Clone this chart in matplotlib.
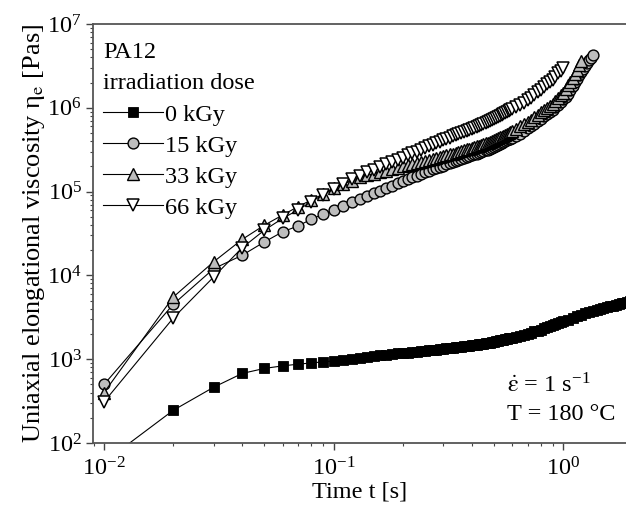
import matplotlib
matplotlib.use("Agg")
import matplotlib.pyplot as plt
from matplotlib.ticker import LogLocator, NullFormatter

plt.rcParams["font.family"] = ["Liberation Serif", "DejaVu Serif"]
plt.rcParams["mathtext.fontset"] = "stix"
plt.rcParams["font.size"] = 17.5

# measurement times [s]
time_early = [0.01, 0.02, 0.03, 0.04, 0.05, 0.06, 0.07, 0.08, 0.09, 0.10,
              0.11, 0.12, 0.13, 0.14, 0.15, 0.16, 0.17, 0.18, 0.19, 0.20,
              0.21, 0.22, 0.23, 0.24, 0.25, 0.26, 0.27, 0.28, 0.29, 0.30,
              0.31, 0.32, 0.33, 0.34, 0.35, 0.36, 0.37, 0.38, 0.39, 0.40,
              0.41, 0.42, 0.43, 0.44, 0.45, 0.46, 0.47, 0.48, 0.49, 0.50,
              0.51, 0.52, 0.53, 0.54, 0.55, 0.56, 0.57, 0.58, 0.59, 0.60]
time_late = [0.625, 0.65, 0.675, 0.70, 0.725, 0.75, 0.775, 0.80, 0.825, 0.85,
             0.875, 0.90, 0.925, 0.95, 0.975, 1.00, 1.025, 1.05, 1.075, 1.10,
             1.125, 1.15, 1.175, 1.20, 1.225, 1.25, 1.275, 1.30, 1.325, 1.35]
time_tail = [1.05, 1.10, 1.15, 1.20, 1.25, 1.30, 1.35, 1.40, 1.45, 1.50,
             1.55, 1.60, 1.65, 1.70, 1.75, 1.80, 1.85, 1.90, 1.95, 2.00]

t_0 = time_early + time_late[:16] + time_tail
t_15 = time_early + time_late
t_33 = time_early + time_late[:24]
t_66 = time_early + time_late[:16]

# elongational viscosity [Pas]
eta_0 = [59, 245, 462, 676, 776, 832, 871, 902, 929, 955,
         984, 1010, 1040, 1060, 1080, 1110, 1130, 1150, 1170, 1180,
         1200, 1220, 1230, 1240, 1260, 1270, 1290, 1300, 1320, 1330,
         1345, 1360, 1370, 1380, 1395, 1410, 1420, 1430, 1445, 1460,
         1475, 1490, 1500, 1510, 1525, 1540, 1560, 1580, 1600, 1620,
         1640, 1660, 1680, 1700, 1715, 1730, 1750, 1770, 1790, 1810,
         1850, 1910, 1970, 2020, 2080, 2140, 2190, 2250, 2330, 2400,
         2470, 2550, 2620, 2690, 2770, 2840,
         2970, 3110, 3250, 3390, 3520, 3620, 3730, 3850, 3950, 4060,
         4170, 4270, 4360, 4460, 4550, 4650, 4730, 4830, 4920, 5010]

eta_15 = [500, 4500, 12000, 17400, 25100, 33100, 38900, 46800, 53700, 60300,
          67600, 74100, 81300, 88500, 95500, 102000, 110000, 117000, 126000, 132000,
          141000, 148000, 155000, 164000, 170000, 178000, 184000, 191000, 197000, 204000,
          211000, 219000, 225000, 231000, 237000, 244000, 250000, 257000, 263000, 270000,
          277000, 284000, 290000, 297000, 303000, 310000, 317000, 324000, 333000, 342000,
          351000, 361000, 370000, 380000, 390000, 400000, 409000, 419000, 429000, 440000,
          465000, 490000, 527000, 566000, 607000, 649000, 693000, 741000, 789000, 839000,
          891000, 944000, 1.02e6, 1.09e6, 1.18e6, 1.26e6, 1.36e6, 1.48e6, 1.64e6, 1.82e6,
          2.02e6, 2.23e6, 2.47e6, 2.69e6, 2.91e6, 3.15e6, 3.40e6, 3.67e6, 3.96e6, 4.27e6]

eta_33 = [400, 5500, 14500, 26900, 39800, 52500, 66100, 79400, 93300, 110000,
          123000, 135000, 148000, 156000, 163000, 171000, 178000, 185000, 193000, 200000,
          206000, 213000, 219000, 226000, 232000, 238000, 245000, 251000, 257000, 263000,
          270000, 277000, 284000, 291000, 297000, 304000, 311000, 318000, 324000, 331000,
          339000, 347000, 354000, 362000, 369000, 377000, 385000, 393000, 400000, 407000,
          419000, 431000, 442000, 453000, 464000, 476000, 488000, 501000, 513000, 525000,
          561000, 598000, 637000, 676000, 724000, 774000, 828000, 881000, 938000, 998000,
          1.06e6, 1.12e6, 1.21e6, 1.31e6, 1.41e6, 1.51e6, 1.67e6, 1.85e6, 2.04e6, 2.24e6,
          2.54e6, 2.86e6, 3.23e6, 3.63e6]

eta_66 = [310, 3090, 9550, 21400, 34700, 47900, 60300, 75900, 91200, 107000,
          123000, 140000, 155000, 169000, 183000, 197000, 211000, 226000, 240000, 255000,
          270000, 285000, 300000, 315000, 330000, 346000, 361000, 378000, 393000, 408000,
          424000, 441000, 456000, 471000, 484000, 498000, 511000, 525000, 541000, 557000,
          573000, 590000, 607000, 624000, 641000, 658000, 675000, 692000, 712000, 733000,
          754000, 776000, 798000, 820000, 841000, 863000, 885000, 908000, 931000, 955000,
          1.01e6, 1.07e6, 1.15e6, 1.24e6, 1.32e6, 1.42e6, 1.53e6, 1.65e6, 1.77e6, 1.90e6,
          2.03e6, 2.16e6, 2.36e6, 2.57e6, 2.75e6, 2.95e6]

labels = ["0 kGy", "15 kGy", "33 kGy", "66 kGy"]

fig = plt.figure(figsize=(6.26, 5.08), dpi=100)
ax = fig.add_axes([0.1486, 0.128, 0.8514, 0.8248])

gray = "#bdbdbd"
ax.plot(t_0, eta_0, "-s", color="black", lw=0.8, ms=7.8, mfc="black", mec="black", mew=0.6, label=labels[0])
ax.plot(t_15, eta_15, "-o", color="black", lw=0.8, ms=7.8, mfc=gray, mec="black", mew=1.0, label=labels[1])
ax.plot(t_33, eta_33, "-^", color="black", lw=0.8, ms=8.5, mfc=gray, mec="black", mew=1.0, label=labels[2])
ax.plot(t_66, eta_66, "-v", color="black", lw=0.8, ms=8.5, mfc="white", mec="black", mew=1.1, label=labels[3])

ax.set_xscale("log")
ax.set_yscale("log")
ax.set_xlim(0.00895, 1.88)
ax.set_ylim(1e2, 1e7)

for axis in (ax.xaxis, ax.yaxis):
    axis.set_major_locator(LogLocator(base=10, numticks=10))
    axis.set_minor_locator(LogLocator(base=10, subs=range(2, 10), numticks=10))
    axis.set_minor_formatter(NullFormatter())

ax.tick_params(which="major", direction="out", length=5, width=1, color="#444444", labelsize=17.5, pad=3)
ax.tick_params(which="minor", direction="out", length=2.5, width=0.8, color="#444444")
ax.tick_params(axis="x", which="major", pad=5)

for side in ("left", "bottom", "top"):
    ax.spines[side].set_color("#555555")
    ax.spines[side].set_linewidth(1.3)
ax.spines["right"].set_visible(False)

ax.set_xlabel("Time t [s]", fontsize=17.5, labelpad=1)
ax.set_ylabel("Uniaxial elongational viscosity η$_\\mathrm{e}$ [Pas]", fontsize=19, labelpad=0)

ax.text(0.019, 0.931, "PA12", transform=ax.transAxes, ha="left", va="center", fontsize=17.5)
ax.text(0.019, 0.859, "irradiation dose", transform=ax.transAxes, ha="left", va="center", fontsize=17.5)
ax.legend(loc="upper left", bbox_to_anchor=(0.019, 0.81), frameon=False, fontsize=17.5,
          handlelength=2.45, handletextpad=0.1, labelspacing=0.37, borderpad=0, borderaxespad=0)

ax.text(0.777, 0.138, r"$\dot{\mathrm{\varepsilon}}$ = 1 s$^{\mathdefault{-1}}$", transform=ax.transAxes,
        ha="left", va="center", fontsize=17.5)
ax.text(0.777, 0.067, "T = 180 °C", transform=ax.transAxes, ha="left", va="center", fontsize=17.5)

fig.savefig("out.png", dpi=100)
